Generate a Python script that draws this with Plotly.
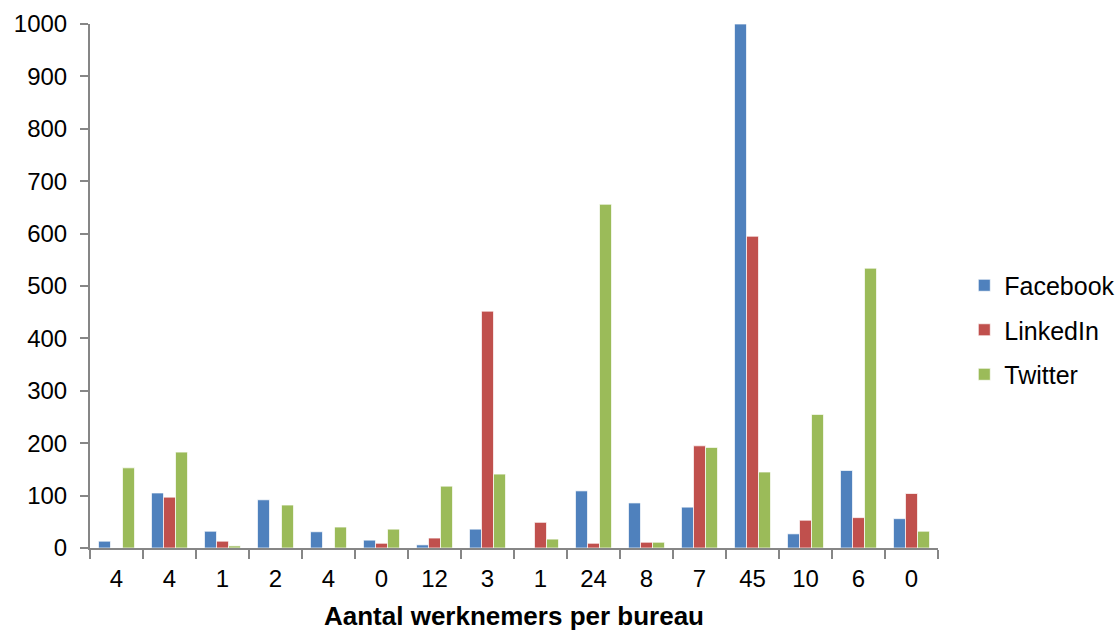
import plotly.graph_objects as go

# Employees per office (category labels, repeated values allowed)
werknemers = ["4", "4", "1", "2", "4", "0", "12", "3", "1", "24", "8", "7", "45", "10", "6", "0"]

facebook = [13, 105, 32, 92, 31, 15, 6, 36, 0, 109, 86, 78, 1000, 27, 148, 56]
linkedin = [0, 97, 13, 0, 0, 9, 19, 452, 49, 9, 11, 195, 595, 53, 58, 104]
twitter = [153, 183, 4, 82, 40, 36, 118, 141, 17, 656, 11, 192, 145, 255, 534, 32]

x = list(range(len(werknemers)))
font = "Liberation Sans, Arial, sans-serif"
axis_color = "#868686"

fig = go.Figure()
for name, vals, color in [
    ("Facebook", facebook, "#4F81BD"),
    ("LinkedIn", linkedin, "#C0504D"),
    ("Twitter", twitter, "#9BBB59"),
]:
    fig.add_trace(go.Bar(
        x=x, y=vals, name=name, legendgroup=name,
        marker=dict(color=color, line=dict(color="rgba(255,255,255,0.7)", width=1)),
    ))

fig.update_layout(
    width=1118, height=632,
    margin=dict(l=90, r=180, t=24, b=84, autoexpand=False),
    paper_bgcolor="white", plot_bgcolor="white",
    barmode="group", bargap=0.32, bargroupgap=0,
    font=dict(family=font, size=24, color="black"),
    legend=dict(
        x=1.031, xanchor="left", y=0.416, yanchor="middle",
        font=dict(size=25), tracegroupgap=9, itemwidth=30,
    ),
    showlegend=True,
)

fig.update_xaxes(
    range=[-0.5, len(werknemers) - 0.5],
    tickmode="array", tickvals=x, ticktext=werknemers,
    ticks="", showgrid=False, zeroline=False,
    showline=True, linecolor=axis_color, linewidth=2,
    tickfont=dict(size=24), ticklabelstandoff=8,
    automargin=False,
    minor=dict(
        tickmode="array",
        tickvals=[i - 0.5 for i in range(len(werknemers) + 1)],
        ticks="outside", ticklen=9, tickwidth=2, tickcolor=axis_color,
        showgrid=False,
    ),
    title=dict(
        text="<b>Aantal werknemers per bureau</b>",
        font=dict(size=26), standoff=16,
    ),
)

fig.update_yaxes(
    range=[0, 1000], tickmode="linear", tick0=0, dtick=100,
    ticks="outside", ticklen=8, tickwidth=2, tickcolor=axis_color,
    showgrid=False, zeroline=False,
    showline=True, linecolor=axis_color, linewidth=2,
    tickfont=dict(size=24), ticklabelstandoff=8,
    automargin=False,
)

fig.write_html("out.html")
